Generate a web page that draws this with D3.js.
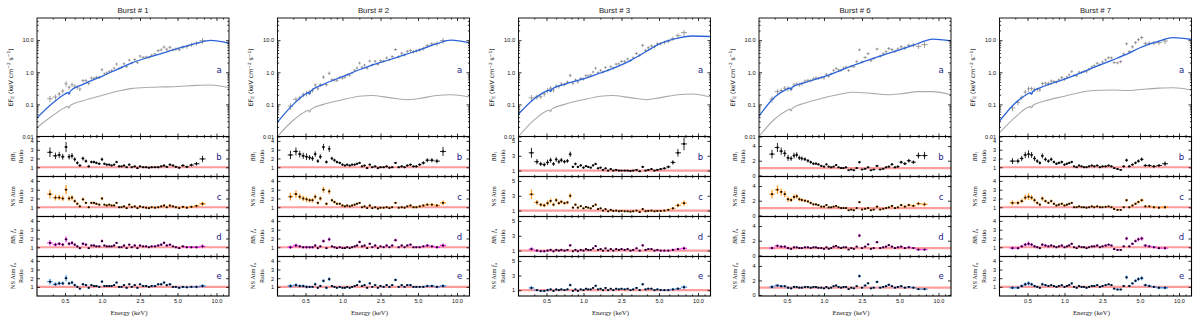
<!DOCTYPE html>
<html>
<head>
<meta charset="utf-8">
<script src="https://cdn.jsdelivr.net/npm/d3@7"></script>
<style>
  body { margin: 0; background: #fff; }
</style>
</head>
<body>
<script>
// ---- data ----
var burstNames = ["Burst # 1", "Burst # 2", "Burst # 3", "Burst # 6", "Burst # 7"];

// spectral bins (keV), shared by all bursts
var energy = [0.38, 0.42, 0.45, 0.48, 0.51, 0.54, 0.57, 0.60, 0.63, 0.66,
  0.70, 0.74, 0.78, 0.82, 0.86, 0.90, 0.95, 1.00, 1.06, 1.12,
  1.19, 1.26, 1.34, 1.42, 1.51, 1.60, 1.70, 1.81, 1.93, 2.05,
  2.20, 2.35, 2.50, 2.65, 2.80, 2.95, 3.10, 3.30, 3.50, 3.70,
  3.90, 4.10, 4.35, 4.60, 4.85, 5.15, 5.50, 5.90, 6.40, 7.00, 7.80];
// fractional 1-sigma errors per bin
var fracErr = [0.16, 0.13, 0.12, 0.12, 0.14, 0.11, 0.11, 0.10, 0.10, 0.10,
  0.09, 0.09, 0.09, 0.08, 0.08, 0.08, 0.08, 0.08, 0.07, 0.07,
  0.07, 0.07, 0.07, 0.07, 0.07, 0.07, 0.07, 0.07, 0.07, 0.07,
  0.07, 0.07, 0.07, 0.07, 0.07, 0.07, 0.07, 0.07, 0.08, 0.08,
  0.08, 0.08, 0.08, 0.08, 0.09, 0.09, 0.10, 0.10, 0.11, 0.12, 0.15];

// model curves (E F_E), sampled at these energies
var modelEnergy = [0.3, 0.4, 0.5, 0.53, 0.535, 0.545, 0.55, 0.7, 1, 1.5, 2, 3, 4, 5, 7, 9, 12];

var total1 = [0.038, 0.11, 0.21, 0.237, 0.21, 0.22, 0.255, 0.42, 0.75, 1.3, 1.9, 3.0, 4.2, 5.5, 8.0, 9.8, 8.0];
var comp1 = [0.019, 0.045, 0.08, 0.087, 0.077, 0.080, 0.092, 0.13, 0.19, 0.26, 0.31, 0.34, 0.35, 0.36, 0.39, 0.40, 0.33];
var total2 = [0.028, 0.10, 0.21, 0.237, 0.21, 0.22, 0.255, 0.42, 0.73, 1.2, 1.65, 2.5, 3.6, 4.8, 7.8, 10.0, 8.3];
var comp2 = [0.010, 0.032, 0.06, 0.066, 0.058, 0.060, 0.069, 0.10, 0.14, 0.18, 0.19, 0.16, 0.14, 0.15, 0.19, 0.20, 0.17];
var total3 = [0.05, 0.15, 0.26, 0.283, 0.25, 0.26, 0.298, 0.42, 0.62, 0.95, 1.3, 2.4, 4.6, 7.5, 11.5, 13.5, 13.0];
var comp3 = [0.010, 0.033, 0.062, 0.067, 0.059, 0.062, 0.071, 0.10, 0.14, 0.18, 0.19, 0.16, 0.14, 0.16, 0.20, 0.21, 0.17];
var total6 = [0.043, 0.17, 0.30, 0.326, 0.29, 0.30, 0.343, 0.48, 0.73, 1.15, 1.6, 2.6, 3.8, 5.0, 8.0, 10.8, 9.5];
var comp6 = [0.010, 0.035, 0.065, 0.071, 0.063, 0.066, 0.075, 0.11, 0.16, 0.21, 0.24, 0.22, 0.20, 0.21, 0.25, 0.25, 0.20];
var total7 = [0.03, 0.11, 0.21, 0.233, 0.205, 0.215, 0.249, 0.38, 0.61, 0.98, 1.4, 2.4, 3.8, 5.8, 9.3, 12.0, 10.5];
var comp7 = [0.013, 0.04, 0.08, 0.087, 0.077, 0.080, 0.092, 0.13, 0.18, 0.24, 0.27, 0.28, 0.27, 0.29, 0.32, 0.33, 0.28];

// measured spectra (keV cm^-2 s^-1)
var flux1 = [0.15, 0.17, 0.21, 0.26, 0.44, 0.34, 0.41, 0.37, 0.34, 0.30, 0.55, 0.55, 0.45, 0.66, 0.65, 0.70, 0.70, 1.20, 0.89, 0.96,
  1.05, 1.13, 1.34, 1.80, 1.31, 1.42, 1.85, 1.50, 2.40, 1.95, 2.50, 2.00, 3.20, 2.90, 3.00, 2.90, 3.40, 3.70, 4.70, 5.00,
  6.10, 5.20, 6.00, 5.00, 5.30, 5.10, 6.10, 6.30, 7.20, 8.00, 9.60];
var flux2 = [0.088, 0.144, 0.16, 0.20, 0.22, 0.245, 0.275, 0.40, 0.31, 0.41, 0.71, 0.41, 0.93, 0.59, 0.58, 0.56, 0.68, 0.66, 0.70, 0.84,
  0.81, 0.97, 1.16, 1.36, 1.94, 1.43, 1.67, 1.34, 2.24, 1.70, 2.20, 1.77, 2.30, 2.23, 2.80, 2.47, 3.10, 5.10, 3.05, 3.90,
  3.50, 4.50, 4.80, 4.35, 4.65, 5.00, 5.50, 6.70, 7.60, 7.80, 9.70];
var flux3 = [0.16, 0.17, 0.175, 0.21, 0.27, 0.32, 0.28, 0.37, 0.36, 0.43, 0.42, 0.49, 0.80, 0.45, 0.58, 0.50, 0.64, 0.62, 0.79, 0.77,
  0.82, 1.02, 1.34, 0.98, 1.15, 1.02, 1.42, 1.17, 1.50, 1.35, 1.80, 1.83, 2.18, 2.19, 2.60, 2.33, 2.84, 3.87, 3.39, 6.90,
  4.80, 5.80, 6.60, 6.25, 7.70, 7.80, 8.50, 9.30, 11.2, 13.8, 17.2];
var flux6 = [0.146, 0.25, 0.27, 0.32, 0.31, 0.30, 0.40, 0.43, 0.41, 0.44, 0.53, 0.56, 0.55, 0.63, 0.67, 0.65, 0.69, 0.66, 0.86, 0.75,
  0.89, 1.14, 1.31, 1.19, 1.16, 1.36, 1.46, 1.14, 1.54, 1.49, 2.16, 5.00, 2.09, 2.90, 3.80, 2.30, 2.72, 5.30, 3.19, 3.80,
  4.40, 5.50, 5.10, 4.52, 5.30, 6.20, 5.70, 6.90, 7.06, 6.40, 7.30];
var flux7 = [0.078, 0.114, 0.164, 0.243, 0.305, 0.312, 0.29, 0.29, 0.284, 0.446, 0.456, 0.45, 0.528, 0.516, 0.50, 0.584, 0.686, 0.61, 0.718, 0.836,
  1.05, 0.80, 0.774, 1.01, 0.985, 1.06, 1.04, 1.24, 1.47, 1.60, 1.91, 1.74, 2.08, 2.44, 2.85, 2.81, 2.02, 1.96, 2.15, 3.70,
  7.70, 4.40, 6.20, 8.40, 10.4, 12.1, 7.90, 8.00, 8.20, 8.40, 9.40];

// data / model ratios: BB1, NS Atm, BB1 fa, NS Atm fa
var ratioBB1 = [2.7, 2.3, 2.4, 2.2, 3.3, 2.2, 2.3, 1.9, 1.5, 1.2, 2.0, 1.7, 1.1, 1.6, 1.6, 1.5, 1.4, 1.9, 1.4, 1.3,
  1.3, 1.2, 1.3, 1.6, 1.1, 1.1, 1.2, 1.0, 1.3, 1.0, 1.1, 0.9, 1.1, 1.0, 1.0, 0.95, 1.0, 1.0, 1.0, 1.1,
  1.2, 1.05, 1.3, 1.2, 1.05, 0.95, 1.2, 1.05, 1.25, 1.4, 1.95];
var ratioNS1 = [2.5, 2.1, 2.1, 2.0, 3.0, 2.0, 2.1, 1.7, 1.4, 1.1, 1.9, 1.5, 1.0, 1.5, 1.5, 1.4, 1.3, 2.0, 1.3, 1.2,
  1.3, 1.2, 1.2, 1.5, 1.0, 1.0, 1.1, 0.9, 1.3, 1.0, 1.1, 0.9, 1.1, 1.0, 0.95, 0.9, 1.0, 0.95, 1.0, 1.1,
  1.2, 1.0, 1.2, 1.1, 1.0, 0.9, 1.05, 0.95, 1.05, 1.15, 1.4];
var ratioBBfa1 = [1.5, 1.3, 1.4, 1.3, 1.9, 1.4, 1.5, 1.3, 1.1, 0.9, 1.4, 1.3, 0.9, 1.2, 1.2, 1.1, 1.1, 1.7, 1.2, 1.1,
  1.1, 1.1, 1.2, 1.5, 1.0, 1.0, 1.2, 0.9, 1.3, 1.0, 1.2, 0.9, 1.2, 1.1, 1.1, 1.0, 1.1, 1.1, 1.2, 1.3,
  1.5, 1.2, 1.3, 1.1, 1.0, 0.9, 1.1, 1.0, 1.0, 1.0, 1.1];
var ratioNSfa1 = [1.6, 1.3, 1.4, 1.4, 2.0, 1.4, 1.5, 1.2, 1.0, 0.8, 1.3, 1.2, 0.9, 1.2, 1.1, 1.1, 1.0, 1.6, 1.1, 1.1,
  1.1, 1.1, 1.2, 1.5, 1.0, 1.0, 1.2, 0.9, 1.3, 1.0, 1.2, 0.9, 1.3, 1.1, 1.1, 1.0, 1.1, 1.1, 1.3, 1.3,
  1.5, 1.2, 1.3, 1.0, 1.0, 0.9, 1.0, 0.95, 1.0, 1.0, 1.1];

var ratioBB2 = [2.4, 2.8, 2.5, 2.3, 2.2, 2.1, 2.0, 2.5, 1.7, 2.2, 3.3, 1.6, 3.1, 2.0, 1.8, 1.6, 1.5, 1.3, 1.2, 1.3,
  1.2, 1.3, 1.3, 1.4, 1.5, 1.1, 1.2, 0.9, 1.3, 1.0, 1.1, 0.9, 1.0, 1.0, 1.1, 0.95, 1.0, 1.5, 1.0, 1.1,
  1.0, 1.2, 1.3, 1.1, 1.1, 1.3, 1.5, 1.8, 1.8, 1.7, 2.8];
var ratioNS2 = [2.2, 2.5, 2.2, 2.0, 1.9, 1.8, 1.8, 2.2, 1.5, 2.0, 3.0, 1.4, 2.8, 1.8, 1.6, 1.4, 1.4, 1.2, 1.1, 1.2,
  1.1, 1.2, 1.3, 1.4, 1.5, 1.0, 1.1, 0.9, 1.2, 0.9, 1.0, 0.85, 0.95, 0.95, 1.0, 0.9, 1.0, 1.5, 0.95, 1.0,
  0.95, 1.1, 1.2, 1.0, 1.0, 1.1, 1.2, 1.3, 1.3, 1.2, 1.5];
var ratioBBfa2 = [1.0, 1.2, 1.1, 1.0, 1.0, 1.0, 1.0, 1.2, 0.9, 1.1, 1.7, 0.9, 1.9, 1.1, 1.0, 0.9, 1.0, 0.9, 0.9, 1.0,
  0.9, 1.0, 1.1, 1.2, 1.6, 1.1, 1.2, 0.9, 1.4, 1.0, 1.2, 0.9, 1.1, 1.0, 1.2, 1.0, 1.2, 1.8, 1.0, 1.2,
  1.0, 1.2, 1.3, 1.0, 1.0, 1.0, 1.1, 1.2, 1.1, 1.0, 1.2];
var ratioNSfa2 = [1.1, 1.2, 1.1, 1.1, 1.0, 1.0, 1.0, 1.3, 0.9, 1.1, 1.7, 0.9, 1.9, 1.1, 1.0, 0.9, 1.0, 0.9, 0.9, 1.0,
  0.9, 1.0, 1.1, 1.2, 1.6, 1.1, 1.2, 0.9, 1.4, 1.0, 1.2, 0.9, 1.1, 1.0, 1.2, 1.0, 1.2, 1.8, 1.0, 1.2,
  1.0, 1.2, 1.2, 1.0, 1.0, 1.0, 1.0, 1.1, 1.1, 1.0, 1.1];

var ratioBB3 = [3.4, 2.2, 1.9, 1.8, 2.1, 2.4, 1.9, 2.5, 2.2, 2.4, 2.2, 2.3, 3.2, 1.5, 1.9, 1.5, 1.7, 1.4, 1.6, 1.5,
  1.4, 1.7, 1.9, 1.3, 1.4, 1.1, 1.3, 1.0, 1.2, 1.0, 1.1, 1.0, 1.0, 1.0, 1.0, 0.95, 1.0, 1.1, 0.9, 1.5,
  1.0, 1.1, 1.2, 1.0, 1.1, 1.2, 1.3, 1.5, 2.1, 3.4, 4.6];
var ratioNS3 = [3.2, 2.1, 1.8, 1.7, 2.0, 2.3, 1.8, 2.4, 2.0, 2.2, 2.0, 2.1, 3.0, 1.4, 1.8, 1.4, 1.6, 1.3, 1.5, 1.4,
  1.3, 1.6, 1.8, 1.2, 1.3, 1.0, 1.2, 0.9, 1.1, 0.95, 1.0, 0.9, 0.95, 0.9, 0.9, 0.85, 0.9, 1.0, 0.8, 1.2,
  0.9, 0.95, 1.0, 0.9, 0.95, 0.95, 1.0, 1.1, 1.3, 1.7, 2.0];
var ratioBBfa3 = [1.2, 1.0, 0.9, 0.9, 1.0, 1.1, 0.9, 1.1, 1.0, 1.1, 1.0, 1.1, 1.7, 0.9, 1.1, 0.9, 1.1, 1.0, 1.2, 1.1,
  1.1, 1.3, 1.6, 1.1, 1.2, 1.0, 1.3, 1.0, 1.2, 1.0, 1.2, 1.1, 1.2, 1.1, 1.2, 1.0, 1.1, 1.3, 1.0, 1.7,
  1.1, 1.2, 1.2, 1.0, 1.1, 1.0, 1.0, 1.0, 1.1, 1.2, 1.3];
var ratioNSfa3 = [1.3, 1.0, 0.9, 0.9, 1.0, 1.1, 0.9, 1.1, 1.0, 1.1, 1.0, 1.1, 1.7, 0.9, 1.1, 0.9, 1.1, 1.0, 1.2, 1.1,
  1.1, 1.3, 1.6, 1.1, 1.2, 1.0, 1.3, 1.0, 1.2, 1.0, 1.2, 1.1, 1.2, 1.1, 1.2, 1.0, 1.1, 1.3, 1.0, 1.8,
  1.1, 1.2, 1.2, 1.0, 1.1, 1.0, 1.0, 1.0, 1.1, 1.2, 1.4];

var ratioBB6 = [2.9, 3.8, 3.3, 3.0, 2.4, 2.3, 2.7, 2.8, 2.4, 2.3, 2.2, 2.0, 1.8, 1.6, 1.6, 1.5, 1.3, 1.2, 1.5, 1.2,
  1.1, 1.2, 1.4, 1.1, 1.0, 1.0, 1.1, 0.7, 0.8, 0.7, 1.0, 1.8, 0.8, 0.9, 1.1, 0.7, 0.8, 1.3, 0.8, 0.9,
  1.1, 1.2, 1.5, 1.1, 1.2, 1.8, 1.6, 2.0, 1.8, 2.7, 2.7];
var ratioNS6 = [2.9, 3.5, 3.2, 2.9, 2.2, 2.1, 2.5, 2.6, 2.2, 2.1, 2.0, 1.9, 1.7, 1.5, 1.5, 1.4, 1.2, 1.2, 1.4, 1.1,
  1.1, 1.2, 1.3, 1.1, 1.0, 1.0, 1.0, 0.7, 0.8, 0.7, 1.0, 1.8, 0.8, 0.9, 1.0, 0.7, 0.8, 1.2, 0.8, 0.9,
  1.0, 1.1, 1.3, 1.0, 1.1, 1.4, 1.2, 1.4, 1.3, 1.6, 1.5];
var ratioBBfa6 = [1.0, 1.3, 1.2, 1.2, 1.0, 0.9, 1.1, 1.1, 1.0, 1.0, 1.1, 1.1, 1.0, 1.1, 1.1, 1.0, 1.0, 0.9, 1.1, 0.9,
  1.0, 1.2, 1.3, 1.1, 1.0, 1.1, 1.1, 0.8, 1.0, 0.9, 1.2, 2.7, 1.0, 1.2, 1.5, 0.9, 1.0, 1.8, 1.0, 1.1,
  1.2, 1.4, 1.2, 1.0, 1.1, 1.2, 1.0, 1.1, 1.0, 0.8, 0.8];
var ratioNSfa6 = [1.1, 1.3, 1.2, 1.2, 1.0, 0.9, 1.1, 1.1, 1.0, 1.0, 1.1, 1.1, 1.0, 1.1, 1.1, 1.0, 1.0, 0.9, 1.1, 0.9,
  1.0, 1.2, 1.3, 1.1, 1.0, 1.1, 1.1, 0.8, 1.0, 0.9, 1.2, 2.6, 1.0, 1.3, 1.6, 0.9, 1.0, 1.8, 1.0, 1.1,
  1.2, 1.4, 1.2, 1.0, 1.1, 1.2, 1.0, 1.1, 1.0, 0.8, 0.8];

var ratioBB7 = [1.7, 1.7, 2.0, 2.4, 2.5, 2.4, 2.0, 1.7, 1.5, 2.3, 1.9, 1.7, 1.9, 1.6, 1.4, 1.5, 1.6, 1.3, 1.4, 1.5,
  1.6, 1.1, 1.0, 1.2, 1.1, 1.0, 1.0, 1.1, 1.2, 1.1, 1.2, 1.0, 1.1, 1.1, 1.2, 1.1, 0.9, 0.8, 0.7, 1.1,
  1.8, 1.1, 1.3, 1.5, 1.7, 1.9, 1.2, 1.2, 1.1, 1.2, 1.4];
var ratioNS7 = [1.5, 1.5, 1.7, 2.1, 2.2, 2.1, 1.8, 1.5, 1.3, 2.0, 1.7, 1.5, 1.7, 1.4, 1.2, 1.3, 1.4, 1.2, 1.3, 1.4,
  1.5, 1.0, 1.0, 1.1, 1.0, 1.0, 0.95, 1.0, 1.1, 1.0, 1.1, 1.0, 1.0, 1.05, 1.1, 1.0, 0.8, 0.7, 0.7, 1.0,
  1.8, 1.0, 1.2, 1.4, 1.6, 1.8, 1.1, 1.1, 1.0, 0.95, 1.0];
var ratioBBfa7 = [0.9, 0.9, 1.1, 1.3, 1.4, 1.3, 1.1, 1.0, 0.9, 1.3, 1.2, 1.1, 1.2, 1.1, 1.0, 1.1, 1.2, 1.0, 1.1, 1.2,
  1.4, 1.0, 0.9, 1.1, 1.0, 1.0, 0.9, 1.0, 1.1, 1.1, 1.2, 1.0, 1.1, 1.2, 1.3, 1.2, 0.8, 0.7, 0.7, 1.1,
  2.0, 1.1, 1.4, 1.7, 1.9, 2.0, 1.2, 1.1, 1.0, 0.9, 0.9];
var ratioNSfa7 = [0.9, 0.9, 1.1, 1.3, 1.4, 1.3, 1.1, 1.0, 0.9, 1.3, 1.2, 1.1, 1.2, 1.1, 1.0, 1.1, 1.2, 1.0, 1.1, 1.2,
  1.4, 1.0, 0.9, 1.1, 1.0, 1.0, 0.9, 1.0, 1.1, 1.1, 1.2, 1.0, 1.1, 1.2, 1.3, 1.2, 0.8, 0.7, 0.7, 1.1,
  2.1, 1.1, 1.4, 1.7, 1.9, 2.0, 1.2, 1.1, 1.0, 0.9, 0.9];

// axes
var energyKnots = [0.3, 0.5, 1, 2.5, 5, 10, 12];
var xTickValues = [0.5, 1, 2.5, 5, 10];
var xTickLabels = ["0.5", "1.0", "2.5", "5.0", "10.0"];
var xMinorTicks = [0.4, 0.6, 0.7, 0.8, 0.9, 1.5, 2, 3, 4, 6, 7, 8, 9, 11];
var fluxDomain = [0.01, 49];
var fluxTicks = [0.01, 0.1, 1, 10];
var fluxTickLabels = ["0.01", "0.1", "1.0", "10.0"];
var ratioDomains = [[-0.05, 4.5], [-0.05, 4.5], [0.2, 5.6], [-0.15, 5.3], [-0.05, 4.5]];
var ratioTickSets = [[1, 2, 3, 4], [1, 2, 3, 4], [1, 3, 5], [0, 2, 4], [1, 2, 3, 4]];

// ---- layout ----
var svgWidth = 1200;
var svgHeight = 324;
var panelLeft = [37, 277.5, 518.5, 759, 999.5];
var panelWidth = 192;
var rowTop = [18, 136.5, 176.5, 216.5, 256.5];
var rowHeight = [118.5, 40, 40, 40, 39.5];
var xKnotPos = [0, 28, 65, 103, 140.5, 179.5, 192];
var rowLetters = ["a", "b", "c", "d", "e"];
var ratioColors = ["#000000", "#ff9a26", "#f032f0", "#3b8de6"];

var fluxSets = [flux1, flux2, flux3, flux6, flux7];
var totalSets = [total1, total2, total3, total6, total7];
var compSets = [comp1, comp2, comp3, comp6, comp7];
var ratioSets = [
  [ratioBB1, ratioNS1, ratioBBfa1, ratioNSfa1],
  [ratioBB2, ratioNS2, ratioBBfa2, ratioNSfa2],
  [ratioBB3, ratioNS3, ratioBBfa3, ratioNSfa3],
  [ratioBB6, ratioNS6, ratioBBfa6, ratioNSfa6],
  [ratioBB7, ratioNS7, ratioBBfa7, ratioNSfa7]
];

var svg = d3.select("body")
  .append("svg")
  .attr("width", svgWidth)
  .attr("height", svgHeight);

var tickFont = "Liberation Sans, Arial, sans-serif";
var serifFont = "Liberation Serif, Times New Roman, serif";

// bin edges (geometric midpoints between neighbouring energies)
var binEdges = energy.map(function(e, k) {
  var lo = k > 0 ? Math.sqrt(energy[k - 1] * e) : e * e / Math.sqrt(e * energy[k + 1]);
  var hi = k < energy.length - 1 ? Math.sqrt(e * energy[k + 1]) : e * e / Math.sqrt(energy[k - 1] * e);
  return [lo, hi];
});

function styleAxis(sel) {
  sel.select(".domain").remove();
  sel.attr("font-size", 5.6).attr("font-family", tickFont);
  sel.selectAll("line").attr("stroke", "#000").attr("stroke-width", 0.8);
  sel.selectAll("text").attr("fill", "#111");
}

function addAxis(g, axis, tx, ty) {
  g.append("g")
    .attr("transform", "translate(" + tx + "," + ty + ")")
    .call(axis)
    .call(styleAxis);
}

// rotated label lines: array of pieces per line
function rotatedLabel(g, cx, cy, lines, size, family) {
  var lg = g.append("g").attr("transform", "translate(" + cx + "," + cy + ") rotate(-90)");
  lines.forEach(function(pieces, li) {
    var t = lg.append("text")
      .attr("x", 0).attr("y", li * 8.5)
      .attr("text-anchor", "middle")
      .attr("font-family", family)
      .attr("font-size", size)
      .attr("fill", "#111");
    var shift = 0;
    pieces.forEach(function(p) {
      var want = p.sub ? 1.4 : (p.sup ? -2.4 : 0);
      var ts = t.append("tspan").text(p.t).attr("dy", want - shift);
      shift = want;
      if (p.it) ts.attr("font-style", "italic");
      if (p.sub || p.sup) ts.attr("font-size", size * 0.7);
    });
  });
}

var ratioLabels = [
  [[{t: "BB", it: true}, {t: "1", sub: true}], [{t: "Ratio"}]],
  [[{t: "NS Atm"}], [{t: "Ratio"}]],
  [[{t: "BB", it: true}, {t: "1", sub: true}, {t: " "}, {t: "f", it: true}, {t: "a", sub: true}], [{t: "Ratio"}]],
  [[{t: "NS Atm "}, {t: "f", it: true}, {t: "a", sub: true}], [{t: "Ratio"}]]
];
var fluxLabel = [[{t: "EF"}, {t: "E", sub: true}, {t: "  (keV cm"}, {t: "\u22122", sup: true}, {t: " s"}, {t: "\u22121", sup: true}, {t: ")"}]];

burstNames.forEach(function(name, i) {
  var left = panelLeft[i];
  var x = d3.scaleLog()
    .domain(energyKnots)
    .range(xKnotPos.map(function(p) { return left + p; }));
  var g = svg.append("g");

  g.append("text")
    .attr("x", left + panelWidth / 2)
    .attr("y", 12.5)
    .attr("text-anchor", "middle")
    .attr("font-family", tickFont)
    .attr("font-size", 7.8)
    .attr("fill", "#222")
    .text(name);

  for (var r = 0; r < 5; r++) {
    var top = rowTop[r];
    var h = rowHeight[r];
    var y = r === 0
      ? d3.scaleLog().domain(fluxDomain).range([top + h, top])
      : d3.scaleLinear().domain(ratioDomains[i]).range([top + h, top]);

    var clipId = "clip" + i + "_" + r;
    svg.append("clipPath").attr("id", clipId).append("rect")
      .attr("x", left).attr("y", top).attr("width", panelWidth).attr("height", h);
    var plot = g.append("g").attr("clip-path", "url(#" + clipId + ")");

    if (r === 0) {
      var flux = fluxSets[i];
      var pts = plot.append("g").attr("stroke", "#878787").attr("stroke-width", 0.8);
      flux.forEach(function(v, k) {
        pts.append("line")
          .attr("x1", x(binEdges[k][0])).attr("x2", x(binEdges[k][1]))
          .attr("y1", y(v)).attr("y2", y(v));
        pts.append("line")
          .attr("x1", x(energy[k])).attr("x2", x(energy[k]))
          .attr("y1", y(v * (1 - 1.4 * fracErr[k]))).attr("y2", y(v * (1 + 1.4 * fracErr[k])));
      });
      var drawLine = d3.line()
        .x(function(d) { return x(d[0]); })
        .y(function(d) { return y(d[1]); })
        .curve(d3.curveMonotoneX);
      plot.append("path")
        .attr("d", drawLine(d3.zip(modelEnergy, compSets[i])))
        .attr("fill", "none").attr("stroke", "#aaaaaa").attr("stroke-width", 1.1);
      plot.append("path")
        .attr("d", drawLine(d3.zip(modelEnergy, totalSets[i])))
        .attr("fill", "none").attr("stroke", "#2b63d9").attr("stroke-width", 1.3);
    } else {
      var ratio = ratioSets[i][r - 1];
      var col = ratioColors[r - 1];
      plot.append("line")
        .attr("x1", left).attr("x2", left + panelWidth)
        .attr("y1", y(1)).attr("y2", y(1))
        .attr("stroke", "#ff9c9c").attr("stroke-width", 2.2);
      var eb = plot.append("g").attr("stroke", col).attr("stroke-width", r === 1 ? 0.85 : 1.3);
      ratio.forEach(function(v, k) {
        var err = v * fracErr[k] * 1.25;
        eb.append("line")
          .attr("x1", x(binEdges[k][0])).attr("x2", x(binEdges[k][1]))
          .attr("y1", y(v)).attr("y2", y(v));
        eb.append("line")
          .attr("x1", x(energy[k])).attr("x2", x(energy[k]))
          .attr("y1", y(v - err)).attr("y2", y(v + err));
      });
      plot.append("g").selectAll("rect")
        .data(ratio)
        .join("rect")
        .attr("x", function(d, k) { return x(energy[k]) - 0.9; })
        .attr("y", function(d) { return y(d) - 0.9; })
        .attr("width", 1.8).attr("height", 1.8)
        .attr("fill", "#000");
    }

    // frame
    g.append("rect")
      .attr("x", left).attr("y", top).attr("width", panelWidth).attr("height", h)
      .attr("fill", "none").attr("stroke", "#000").attr("stroke-width", r === 0 ? 0.9 : 1.1);

    // x ticks, inward, on top and bottom edges
    var isBottom = r === 4;
    addAxis(g, d3.axisBottom(x).tickValues(xTickValues).tickSize(-3).tickPadding(3.5)
      .tickFormat(function(d, k) { return isBottom ? xTickLabels[k] : ""; }), 0, top + h);
    addAxis(g, d3.axisBottom(x).tickValues(xMinorTicks).tickSize(-1.6).tickFormat(""), 0, top + h);
    addAxis(g, d3.axisTop(x).tickValues(xTickValues).tickSize(-3).tickFormat(""), 0, top);
    addAxis(g, d3.axisTop(x).tickValues(xMinorTicks).tickSize(-1.6).tickFormat(""), 0, top);

    // y ticks, inward, left and right
    if (r === 0) {
      var minor = y.ticks().filter(function(t) { return fluxTicks.indexOf(t) < 0; });
      addAxis(g, d3.axisLeft(y).tickValues(fluxTicks).tickSize(-3).tickPadding(3.5)
        .tickFormat(function(d, k) { return fluxTickLabels[k]; }), left, 0);
      addAxis(g, d3.axisLeft(y).tickValues(minor).tickSize(-1.6).tickFormat(""), left, 0);
      addAxis(g, d3.axisRight(y).tickValues(fluxTicks).tickSize(-3).tickFormat(""), left + panelWidth, 0);
      addAxis(g, d3.axisRight(y).tickValues(minor).tickSize(-1.6).tickFormat(""), left + panelWidth, 0);
      rotatedLabel(g, left - 24.5, top + h / 2, fluxLabel, 6.2, "DejaVu Sans, sans-serif");
    } else {
      addAxis(g, d3.axisLeft(y).tickValues(ratioTickSets[i]).tickSize(-3).tickPadding(3.5)
        .tickFormat(d3.format("d")), left, 0);
      addAxis(g, d3.axisRight(y).tickValues(ratioTickSets[i]).tickSize(-3).tickFormat(""), left + panelWidth, 0);
      rotatedLabel(g, left - 22.5, top + h / 2, ratioLabels[r - 1], 6.3, serifFont);
    }

    g.append("text")
      .attr("x", left + 182)
      .attr("y", r === 0 ? 73 : top + h / 2 + 3)
      .attr("text-anchor", "middle")
      .attr("font-family", "DejaVu Sans, sans-serif")
      .attr("font-size", 8.5)
      .attr("fill", "#232386")
      .text(rowLetters[r]);
  }

  g.append("text")
    .attr("x", left + panelWidth / 2 - 4)
    .attr("y", 314.5)
    .attr("text-anchor", "middle")
    .attr("font-family", serifFont)
    .attr("font-size", 6.8)
    .attr("fill", "#222")
    .text("Energy (keV)");
});
</script>
</body>
</html>
